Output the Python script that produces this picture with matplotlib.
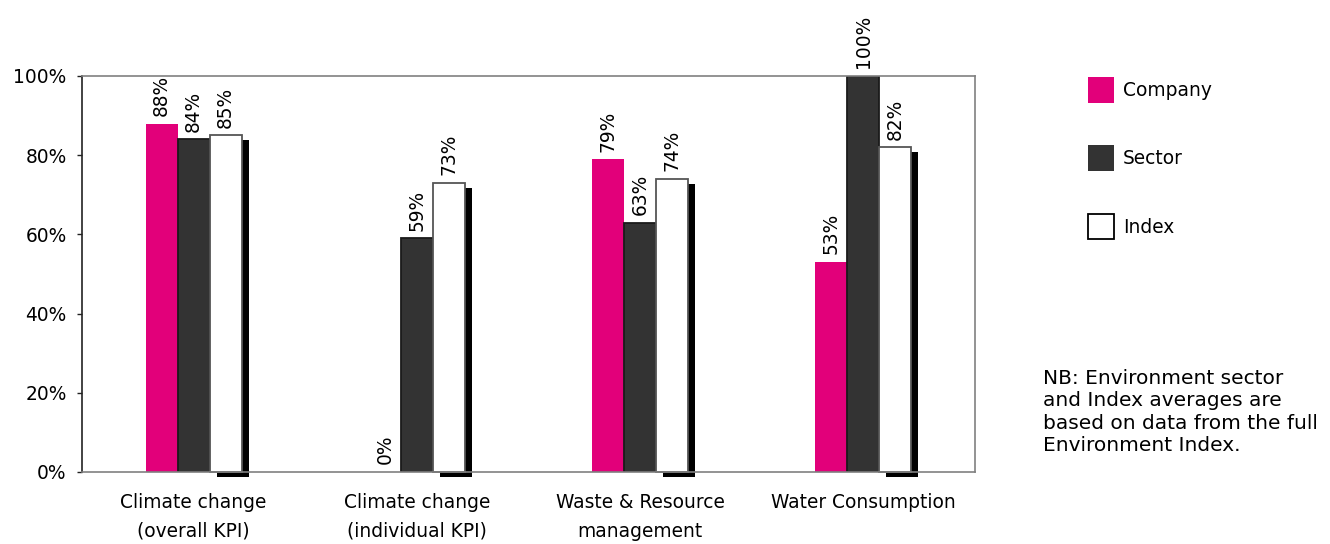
import matplotlib
matplotlib.use("Agg")
import matplotlib.pyplot as plt
import matplotlib.patheffects as pe
from matplotlib.patches import Patch
import numpy as np

plt.rcParams['font.family'] = ['DejaVu Sans']

categories = ["Climate change\n(overall KPI)", "Climate change\n(individual KPI)",
              "Waste & Resource\nmanagement", "Water Consumption"]
company = [88, 0, 79, 53]
sector = [84, 59, 63, 100]
index_avg = [85, 73, 74, 82]
series_names = ["Company", "Sector", "Index"]
y_ticks = [0, 20, 40, 60, 80, 100]
note = ("NB: Environment sector\nand Index averages are\n"
        "based on data from the full\nEnvironment Index.")

MAGENTA = "#E2007A"
DARK = "#333333"
FS = 13.4

fig = plt.figure(figsize=(13.3, 5.44), dpi=100)
ax = fig.add_axes([0.0617, 0.1324, 0.6714, 0.7279])

x = np.arange(len(categories))
w = 0.1435

b1 = ax.bar(x - w, company, w, color=MAGENTA, edgecolor="none", zorder=2)
b2 = ax.bar(x, sector, w, color=DARK, edgecolor="#1a1a1a", linewidth=1.3, zorder=2)
b3 = ax.bar(x + w, index_avg, w, color="white", edgecolor="#555555", linewidth=1.3,
            zorder=2)
for r in b3:
    r.set_path_effects([pe.SimplePatchShadow(offset=(5.0, -3.4), shadow_rgbFace="black",
                                             alpha=1.0), pe.Normal()])
    r.set_clip_on(False)

for bars, vals in ((b1, company), (b2, sector), (b3, index_avg)):
    for r, v in zip(bars, vals):
        ax.annotate(f"{v}%", (r.get_x() + r.get_width() / 2, v),
                    xytext=(0, 5.5), textcoords="offset points",
                    rotation=90, ha="center", va="bottom", fontsize=FS,
                    annotation_clip=False)

ax.set_xlim(-0.5, len(categories) - 0.5)
ax.set_ylim(0, 100)
ax.set_yticks(y_ticks)
ax.set_yticklabels([f"{t}%" for t in y_ticks], fontsize=FS)
ax.set_xticks(x)
ax.set_xticklabels(categories, fontsize=FS, linespacing=1.65)
ax.tick_params(axis="x", length=0, pad=15)
ax.tick_params(axis="y", length=3.6, width=1, pad=7.5, color="#222222")

for side in ("top", "right", "bottom"):
    ax.spines[side].set_color("#808080")
    ax.spines[side].set_linewidth(1.2)
ax.spines["left"].set_color("#222222")
ax.spines["left"].set_linewidth(1.2)
ax.spines["bottom"].set_zorder(3)

handles = [Patch(facecolor=MAGENTA, edgecolor="none"),
           Patch(facecolor=DARK, edgecolor="none"),
           Patch(facecolor="white", edgecolor="black", linewidth=1.3)]
fig.legend(handles, series_names, loc="upper left",
           bbox_to_anchor=(1088 / 1330, 1 - 77 / 544), frameon=False,
           fontsize=FS, handlelength=1.39, handleheight=1.76, labelspacing=2.28,
           handletextpad=0.5, borderpad=0, borderaxespad=0)

fig.text(1043 / 1330, 1 - 369 / 544, note, fontsize=14.5, va="top", ha="left",
         linespacing=1.22)

fig.savefig("out.png", dpi=100)
